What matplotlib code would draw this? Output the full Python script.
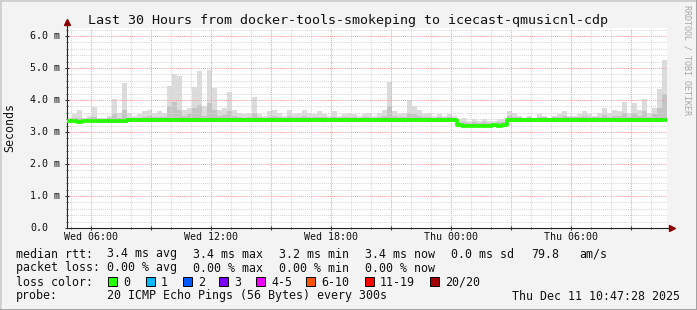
import numpy as np
import pandas as pd
import matplotlib
matplotlib.use('Agg')
import matplotlib.pyplot as plt
import matplotlib.dates as mdates
from matplotlib.ticker import MultipleLocator, FuncFormatter
from matplotlib.patches import Rectangle
from matplotlib.transforms import blended_transform_factory

W, H = 697, 310

title = 'Last 30 Hours from docker-tools-smokeping to icecast-qmusicnl-cdp'
start = pd.Timestamp('2025-12-10 04:47:28')
end = pd.Timestamp('2025-12-11 10:47:28')

# one value per 15 minutes, milliseconds
median_ms = [3.33, 3.34, 3.32, 3.33, 3.34, 3.33, 3.34, 3.33, 3.34, 3.34,
             3.35, 3.35, 3.36, 3.36, 3.37, 3.37, 3.36, 3.37, 3.38, 3.37,
             3.38, 3.37, 3.38, 3.38, 3.37, 3.38, 3.39, 3.38, 3.38, 3.37,
             3.38, 3.38, 3.39, 3.38, 3.37, 3.38, 3.38, 3.37, 3.38, 3.38,
             3.38, 3.39, 3.38, 3.38, 3.37, 3.38, 3.38, 3.38, 3.39, 3.38,
             3.38, 3.37, 3.38, 3.38, 3.38, 3.38, 3.37, 3.38, 3.38, 3.38,
             3.38, 3.37, 3.38, 3.38, 3.38, 3.38, 3.38, 3.37, 3.38, 3.38,
             3.38, 3.38, 3.37, 3.38, 3.38, 3.38, 3.37, 3.37, 3.22, 3.19,
             3.20, 3.19, 3.19, 3.20, 3.20, 3.21, 3.20, 3.21, 3.38, 3.38,
             3.37, 3.38, 3.37, 3.38, 3.38, 3.37, 3.38, 3.37, 3.38, 3.38,
             3.38, 3.37, 3.38, 3.38, 3.38, 3.37, 3.38, 3.38, 3.38, 3.38,
             3.37, 3.38, 3.38, 3.38, 3.38, 3.38, 3.37, 3.38, 3.38, 3.38]

smoke_max_ms = [3.45, 3.55, 3.69, 3.45, 3.50, 3.78, 3.45, 3.45, 3.50, 4.03,
                3.60, 4.53, 3.60, 3.50, 3.55, 3.65, 3.70, 3.60, 3.65, 3.60,
                4.45, 4.80, 4.75, 3.70, 3.75, 4.40, 4.90, 3.80, 4.95, 4.37,
                3.70, 3.75, 4.25, 3.70, 3.60, 3.55, 3.60, 4.10, 3.55, 3.50,
                3.65, 3.70, 3.60, 3.50, 3.70, 3.55, 3.60, 3.70, 3.60, 3.55,
                3.65, 3.55, 3.50, 3.65, 3.50, 3.55, 3.60, 3.55, 3.50, 3.55,
                3.60, 3.50, 3.60, 3.70, 4.55, 3.65, 3.55, 3.60, 4.00, 3.80,
                3.70, 3.55, 3.60, 3.50, 3.55, 3.50, 3.55, 3.50, 3.40, 3.45,
                3.35, 3.40, 3.35, 3.40, 3.35, 3.35, 3.40, 3.40, 3.65, 3.60,
                3.50, 3.45, 3.50, 3.45, 3.55, 3.50, 3.45, 3.50, 3.55, 3.65,
                3.50, 3.50, 3.55, 3.65, 3.55, 3.50, 3.60, 3.75, 3.60, 3.70,
                3.65, 3.95, 3.60, 3.90, 3.70, 4.03, 3.60, 3.75, 4.35, 5.25]

smoke_mid_ms = [3.42, 3.44, 3.45, 3.42, 3.43, 3.46, 3.42, 3.42, 3.43, 3.55,
                3.45, 3.70, 3.45, 3.44, 3.45, 3.47, 3.50, 3.46, 3.48, 3.46,
                3.80, 3.95, 3.70, 3.50, 3.55, 3.75, 3.85, 3.50, 3.90, 3.70,
                3.50, 3.52, 3.65, 3.50, 3.47, 3.45, 3.47, 3.60, 3.46, 3.45,
                3.48, 3.50, 3.47, 3.45, 3.50, 3.46, 3.47, 3.50, 3.47, 3.46,
                3.48, 3.46, 3.45, 3.48, 3.45, 3.46, 3.47, 3.46, 3.45, 3.46,
                3.47, 3.45, 3.47, 3.50, 3.80, 3.50, 3.47, 3.48, 3.60, 3.55,
                3.50, 3.46, 3.47, 3.45, 3.46, 3.45, 3.46, 3.45, 3.30, 3.30,
                3.28, 3.30, 3.27, 3.30, 3.27, 3.27, 3.30, 3.30, 3.50, 3.48,
                3.46, 3.45, 3.46, 3.45, 3.47, 3.46, 3.45, 3.46, 3.47, 3.50,
                3.46, 3.46, 3.47, 3.50, 3.47, 3.46, 3.48, 3.52, 3.48, 3.50,
                3.50, 3.60, 3.48, 3.60, 3.50, 3.65, 3.48, 3.55, 3.75, 4.20]

smoke_min_ms = [3.30, 3.30, 3.29, 3.30, 3.30, 3.30, 3.31, 3.30, 3.30, 3.31,
                3.31, 3.31, 3.32, 3.32, 3.33, 3.33, 3.32, 3.33, 3.33, 3.33,
                3.33, 3.33, 3.33, 3.33, 3.32, 3.33, 3.34, 3.33, 3.33, 3.32,
                3.33, 3.33, 3.34, 3.33, 3.32, 3.33, 3.33, 3.32, 3.33, 3.33,
                3.33, 3.34, 3.33, 3.33, 3.32, 3.33, 3.33, 3.33, 3.34, 3.33,
                3.33, 3.32, 3.33, 3.33, 3.33, 3.33, 3.32, 3.33, 3.33, 3.33,
                3.33, 3.32, 3.33, 3.33, 3.33, 3.33, 3.33, 3.32, 3.33, 3.33,
                3.33, 3.33, 3.32, 3.33, 3.33, 3.33, 3.32, 3.32, 3.17, 3.15,
                3.16, 3.15, 3.15, 3.16, 3.16, 3.17, 3.16, 3.16, 3.33, 3.33,
                3.32, 3.33, 3.32, 3.33, 3.33, 3.32, 3.33, 3.32, 3.33, 3.33,
                3.33, 3.32, 3.33, 3.33, 3.33, 3.32, 3.33, 3.33, 3.33, 3.33,
                3.32, 3.33, 3.33, 3.33, 3.33, 3.33, 3.32, 3.33, 3.33, 3.33]

ytick_vals = [0, 1, 2, 3, 4, 5, 6]
ytick_labels = ['0.0', '1.0 m', '2.0 m', '3.0 m', '4.0 m', '5.0 m', '6.0 m']

stats_rows = [
    ('median rtt:', ['3.4 ms avg', '3.4 ms max', '3.2 ms min', '3.4 ms now', '0.0 ms sd', '79.8', 'am/s']),
    ('packet loss:', ['0.00 % avg', '0.00 % max', '0.00 % min', '0.00 % now']),
]
stats_x = [107, 193, 279, 365, 451, 531, 579]

loss_labels = ['0', '1', '2', '3', '4-5', '6-10', '11-19', '20/20']
loss_colors = ['#26ff00', '#00b8ff', '#0059ff', '#7e00ff', '#ee00ff', '#ff5500', '#ff0000', '#a10000']
loss_box_x = [108, 146, 183, 219, 256, 306, 365, 430]

probe_text = '20 ICMP Echo Pings (56 Bytes) every 300s'
date_text = 'Thu Dec 11 10:47:28 2025'


def fx(px):
    return px / W


def fy(py):
    return 1 - py / H


mono = 'DejaVu Sans Mono'
txt_col = '#111111'

fig = plt.figure(figsize=(W / 100, H / 100), dpi=100, facecolor='#f3f3f3')

# outer shaded frame like rrdtool
fig.add_artist(plt.Line2D([0, 0, 1], [0, 1, 1], transform=fig.transFigure, color='#cfcfcf', lw=2))
fig.add_artist(plt.Line2D([0, 1, 1], [0, 0, 1], transform=fig.transFigure, color='#9a9a9a', lw=2))

ax = fig.add_axes([fx(67), fy(228), 600 / W, 200 / H])
ax.set_facecolor('white')

times = pd.date_range(start, periods=len(median_ms) + 1, freq='15min')
med = median_ms + median_ms[-1:]
smax = smoke_max_ms + smoke_max_ms[-1:]
smid = smoke_mid_ms + smoke_mid_ms[-1:]
smin = smoke_min_ms + smoke_min_ms[-1:]

ax.fill_between(times, smin, smax, step='post', color='#dcdcdc', lw=0, zorder=1)
ax.fill_between(times, smin, smid, step='post', color='#c4c4c4', lw=0, zorder=1.2)
ax.plot(times, med, drawstyle='steps-post', color=loss_colors[0], lw=2.7, zorder=3)

ax.set_xlim(start, end)
ax.set_ylim(0, 6.25)

# grid
ax.xaxis.set_major_locator(mdates.HourLocator(byhour=range(0, 24, 3)))
ax.xaxis.set_minor_locator(mdates.HourLocator())
ax.yaxis.set_major_locator(MultipleLocator(1))
ax.yaxis.set_minor_locator(MultipleLocator(0.2))
ax.grid(which='minor', color='#d6d6d6', linestyle=(0, (1, 1)), lw=0.75)
ax.grid(which='major', color='#ff9a9a', linestyle=(0, (1, 1)), lw=0.75)
ax.set_axisbelow(False)


def xfmt(x, pos):
    d = mdates.num2date(x)
    if d.hour % 6 == 0:
        return d.strftime('%a %H:%M')
    return ''


ax.xaxis.set_major_formatter(FuncFormatter(xfmt))
ax.tick_params(axis='x', which='major', length=3, direction='inout', pad=1.5,
               labelsize=7.2, colors='#333333', labelcolor=txt_col)
ax.tick_params(axis='x', which='minor', length=2, direction='inout', colors='#333333')
for lab in ax.get_xticklabels():
    lab.set_family(mono)

ax.tick_params(axis='y', which='major', length=3, direction='inout', colors='#333333')
ax.tick_params(axis='y', which='minor', length=2, direction='inout', colors='#333333')
ax.set_yticks(ytick_vals)
ax.set_yticklabels([])
trans = blended_transform_factory(fig.transFigure, ax.transData)
for v, lab in zip(ytick_vals, ytick_labels):
    ax.text(fx(30), v, lab, transform=trans, ha='left', va='center',
            family=mono, fontsize=7.2, color=txt_col)

for s in ['top', 'right']:
    ax.spines[s].set_visible(False)
ax.spines['left'].set_color('#222222')
ax.spines['bottom'].set_color('#222222')

# axis arrows
ax.plot([0, 0], [1, 1.02], transform=ax.transAxes, color='#222222', lw=0.8, clip_on=False)
ax.plot([0], [1.03], transform=ax.transAxes, marker='^', ms=4.5, color='#8b0000', clip_on=False)
ax.plot([1, 1.005], [0, 0], transform=ax.transAxes, color='#222222', lw=0.8, clip_on=False)
ax.plot([1.008], [0], transform=ax.transAxes, marker='>', ms=4.5, color='#8b0000', clip_on=False)

fig.text(fx(348), fy(24), title, ha='center', va='baseline', family=mono, fontsize=9.6, color=txt_col)
fig.text(fx(10), fy(128), 'Seconds', ha='center', va='center', rotation=90,
         family=mono, fontsize=8.4, color=txt_col)
fig.text(fx(687), fy(60), 'RRDTOOL / TOBI OETIKER', ha='center', va='center', rotation=-90,
         family=mono, fontsize=6, color='#a8a8a8')

# legend rows
base = [257.5, 271.5, 285.5, 299.5]
for row, (head, parts) in enumerate(stats_rows):
    fig.text(fx(16), fy(base[row]), head, ha='left', va='baseline', family=mono, fontsize=8.4, color=txt_col)
    for xp, t in zip(stats_x, parts):
        fig.text(fx(xp), fy(base[row]), t, ha='left', va='baseline', family=mono, fontsize=8.4, color=txt_col)

fig.text(fx(16), fy(base[2]), 'loss color:', ha='left', va='baseline', family=mono, fontsize=8.4, color=txt_col)
for bx, col, lab in zip(loss_box_x, loss_colors, loss_labels):
    fig.add_artist(Rectangle((fx(bx), fy(286)), 9 / W, 9 / H, transform=fig.transFigure,
                             facecolor=col, edgecolor='black', lw=0.7))
    fig.text(fx(bx + 15), fy(base[2]), lab, ha='left', va='baseline', family=mono, fontsize=8.4, color=txt_col)

fig.text(fx(16), fy(base[3]), 'probe:', ha='left', va='baseline', family=mono, fontsize=8.4, color=txt_col)
fig.text(fx(107), fy(base[3]), probe_text, ha='left', va='baseline', family=mono, fontsize=8.4, color=txt_col)
fig.text(fx(680), fy(base[3]), date_text, ha='right', va='baseline', family=mono, fontsize=8.4, color=txt_col)

fig.savefig('out.png', dpi=100, facecolor=fig.get_facecolor())
